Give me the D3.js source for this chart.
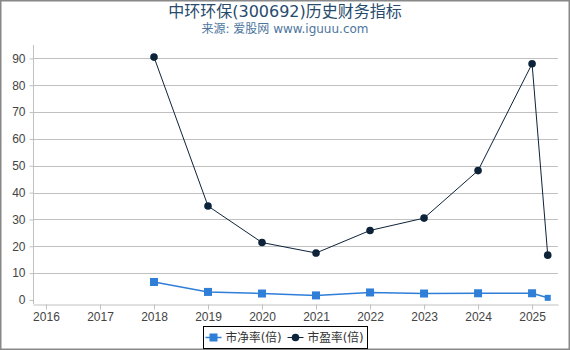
<!DOCTYPE html>
<html>
<head>
<meta charset="utf-8">
<script src="https://cdn.jsdelivr.net/npm/d3@7"></script>
<style>
  body { margin: 0; background: #fff; }
  svg { display: block; font-family: "DejaVu Sans", "Noto Sans CJK SC", sans-serif; }
</style>
</head>
<body>
<svg id="chart" width="570" height="350"></svg>
<script>
// 数据
const peYears = [2018, 2019, 2020, 2021, 2022, 2023, 2024, 2025, 2025.29];
const peValues = [90.5, 35.0, 21.4, 17.5, 25.9, 30.5, 48.2, 88.0, 16.7];
const pbYears = [2018, 2019, 2020, 2021, 2022, 2023, 2024, 2025, 2025.29];
const pbValues = [6.7, 3.0, 2.4, 1.7, 2.8, 2.4, 2.5, 2.5, 0.8];
const xTicks = [2016, 2017, 2018, 2019, 2020, 2021, 2022, 2023, 2024, 2025];
const yTicks = [0, 10, 20, 30, 40, 50, 60, 70, 80, 90];

const W = 570, H = 350;
const plot = { left: 33, right: 558, top: 45, bottom: 304 };

const svg = d3.select('#chart');

// 外框
svg.append('rect')
  .attr('x', 0.5).attr('y', 0.5)
  .attr('width', W - 1).attr('height', H - 1)
  .attr('fill', '#fff')
  .attr('stroke', '#888').attr('stroke-width', 2);

const x = d3.scaleLinear().domain([2015.76, 2025.48]).range([plot.left, plot.right]);
const y = d3.scaleLinear().domain([-1.5, 95]).range([plot.bottom, plot.top]);

// 标题
svg.append('text')
  .attr('x', W / 2).attr('y', 17)
  .attr('text-anchor', 'middle')
  .attr('fill', '#274b6d')
  .attr('font-size', 16)
  .text('中环环保(300692)历史财务指标');

svg.append('text')
  .attr('x', W / 2).attr('y', 33)
  .attr('text-anchor', 'middle')
  .attr('fill', '#4d759e')
  .attr('font-size', 12)
  .text('来源: 爱股网 www.iguuu.com');

// 网格线
svg.append('g')
  .selectAll('line')
  .data(yTicks.filter(d => d > 0))
  .join('line')
  .attr('x1', plot.left).attr('x2', plot.right)
  .attr('y1', d => Math.round(y(d)) + 0.5).attr('y2', d => Math.round(y(d)) + 0.5)
  .attr('stroke', '#c0c0c0').attr('stroke-width', 1);

// Y 轴
const yAxis = svg.append('g')
  .attr('transform', `translate(${plot.left + 0.5},0)`)
  .call(d3.axisLeft(y).tickValues(yTicks).tickSize(4).tickPadding(4).tickSizeOuter(0));
yAxis.select('.domain').attr('stroke', '#c0c0c0');
yAxis.selectAll('.tick line').attr('stroke', '#c0c0c0');
yAxis.selectAll('text').attr('fill', '#444').attr('font-size', 12).attr('font-family', null);
yAxis.select('.domain').attr('d', `M0,${plot.top}V${plot.bottom}`);

// X 轴
const xAxis = svg.append('g')
  .attr('transform', `translate(0,${plot.bottom + 0.5})`)
  .call(d3.axisBottom(x).tickValues(xTicks).tickFormat(d3.format('d')).tickSize(5).tickPadding(3).tickSizeOuter(0));
xAxis.select('.domain').attr('stroke', '#c0c0c0');
xAxis.selectAll('.tick line').attr('stroke', '#c0c0c0');
xAxis.selectAll('text').attr('fill', '#444').attr('font-size', 12).attr('font-family', null);

const line = d3.line().x(d => x(d[0])).y(d => y(d[1]));

// 市净率
const pb = pbYears.map((d, i) => [d, pbValues[i]]);
svg.append('path')
  .datum(pb)
  .attr('d', line)
  .attr('fill', 'none')
  .attr('stroke', '#2f7ed8').attr('stroke-width', 1.5);
svg.append('g')
  .selectAll('rect')
  .data(pb)
  .join('rect')
  .attr('x', (d, i) => x(d[0]) - (i === pb.length - 1 ? 3 : 4))
  .attr('y', (d, i) => y(d[1]) - (i === pb.length - 1 ? 3 : 4))
  .attr('width', (d, i) => i === pb.length - 1 ? 6 : 8)
  .attr('height', (d, i) => i === pb.length - 1 ? 6 : 8)
  .attr('fill', '#2f7ed8');

// 市盈率
const pe = peYears.map((d, i) => [d, peValues[i]]);
svg.append('path')
  .datum(pe)
  .attr('d', line)
  .attr('fill', 'none')
  .attr('stroke', '#0d233a').attr('stroke-width', 1);
svg.append('g')
  .selectAll('circle')
  .data(pe)
  .join('circle')
  .attr('cx', d => x(d[0])).attr('cy', d => y(d[1]))
  .attr('r', 3.8)
  .attr('fill', '#0d233a');

// 图例
const legend = svg.append('g').attr('transform', 'translate(203.5,326.5)');
legend.append('rect')
  .attr('width', 164).attr('height', 22)
  .attr('fill', '#fff').attr('stroke', '#000').attr('stroke-width', 1);

const items = [
  { label: '市净率(倍)', color: '#2f7ed8', shape: 'square', x: 2 },
  { label: '市盈率(倍)', color: '#0d233a', shape: 'circle', x: 84 }
];
items.forEach(it => {
  const g = legend.append('g').attr('transform', `translate(${it.x},11)`);
  g.append('line').attr('x1', 0).attr('x2', 16).attr('stroke', it.color).attr('stroke-width', it.shape === 'square' ? 1.5 : 1);
  if (it.shape === 'square') {
    g.append('rect').attr('x', 4).attr('y', -4).attr('width', 8).attr('height', 8).attr('fill', it.color);
  } else {
    g.append('circle').attr('cx', 8).attr('r', 3.8).attr('fill', it.color);
  }
  g.append('text')
    .attr('x', 20).attr('dy', '0.35em')
    .attr('font-size', 12).attr('fill', '#333')
    .attr('textLength', 56).attr('lengthAdjust', 'spacingAndGlyphs')
    .text(it.label);
});
</script>
</body>
</html>
